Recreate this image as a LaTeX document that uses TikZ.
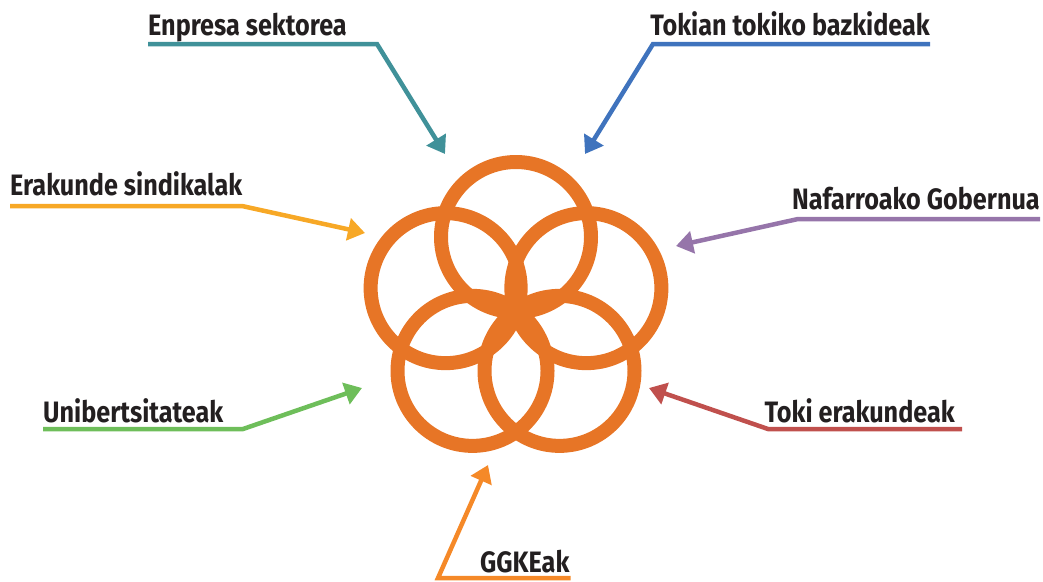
\documentclass[tikz,border=0pt]{standalone}
\usepackage{fontspec}
\setmainfont{Fira Sans}[FakeStretch=0.855]
\usetikzlibrary{arrows.meta}

\definecolor{ringorange}{RGB}{231,117,38}
\definecolor{lblteal}{RGB}{64,145,153}
\definecolor{lblblue}{RGB}{63,115,189}
\definecolor{lblyellow}{RGB}{247,168,38}
\definecolor{lblpurple}{RGB}{150,117,170}
\definecolor{lblgreen}{RGB}{110,190,90}
\definecolor{lblred}{RGB}{192,80,77}
\definecolor{lblorange}{RGB}{245,137,40}
\definecolor{txtdark}{RGB}{35,31,32}

\begin{document}
\begin{tikzpicture}[x=1pt, y=-1pt]
  \tikzset{
    ring/.style={draw=ringorange, line width=14pt},
    lbl/.style={font=\fontsize{29.5}{32}\selectfont\bfseries, text=txtdark,
      inner sep=0pt},
    link/.style={line width=4.5pt, line join=miter,
      -{Triangle[length=17pt, width=22pt]}, draw=#1}
  }
  \useasboundingbox (0,0) rectangle (1043,581);

  \coordinate (hub) at (516,311);
  \foreach \a in {270,342,54,126,198}
    \draw[ring] (hub) ++(\a:74) circle[radius=75];

  \node[lbl, anchor=base west] (enpresa) at (148,35) {Enpresa sektorea};
  \node[lbl, anchor=base east] (tokian) at (930,35) {Tokian tokiko bazkideak};
  \node[lbl, anchor=base west] (sindikal) at (10,195) {Erakunde sindikalak};
  \node[lbl, anchor=base east] (nafar) at (1040,209) {Nafarroako Gobernua};
  \node[lbl, anchor=base west] (unib) at (43,422) {Unibertsitateak};
  \node[lbl, anchor=base east] (toki) at (955,422) {Toki erakundeak};
  \node[lbl, anchor=base west] (ggke) at (480,572) {GGKEak};

  \coordinate (enpresa bend) at (377,44);
  \coordinate (enpresa tip) at (445,154);
  \coordinate (tokian bend) at (653,44);
  \coordinate (tokian tip) at (585,154);
  \coordinate (sindikal bend) at (242,206);
  \coordinate (sindikal tip) at (365,233);
  \coordinate (nafar bend) at (798,219);
  \coordinate (nafar tip) at (676,246);
  \coordinate (unib bend) at (243,429);
  \coordinate (unib tip) at (362,388);
  \coordinate (toki bend) at (768,429);
  \coordinate (toki tip) at (649,388);
  \coordinate (ggke bend) at (438,578);
  \coordinate (ggke tip) at (488,465);

  \draw[link=lblteal] (enpresa.base west |- enpresa bend) -- (enpresa bend) -- (enpresa tip);
  \draw[link=lblblue] (tokian.base east |- tokian bend) -- (tokian bend) -- (tokian tip);
  \draw[link=lblyellow] (sindikal.base west |- sindikal bend) -- (sindikal bend) -- (sindikal tip);
  \draw[link=lblpurple] (nafar.base east |- nafar bend) -- (nafar bend) -- (nafar tip);
  \draw[link=lblgreen] (unib.base west |- unib bend) -- (unib bend) -- (unib tip);
  \draw[link=lblred] ([xshift=7pt]toki.base east |- toki bend) -- (toki bend) -- (toki tip);
  \draw[link=lblorange] ([xshift=1pt]ggke.base east |- ggke bend) -- (ggke bend) -- (ggke tip);
\end{tikzpicture}
\end{document}
